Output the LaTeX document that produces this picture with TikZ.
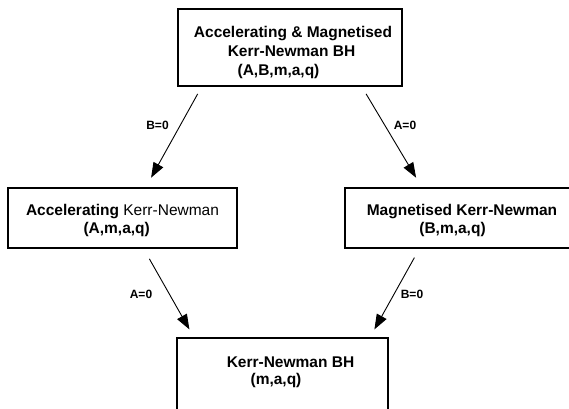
\documentclass[tikz,border=0pt]{standalone}
\usepackage{fontspec}
\setmainfont{Liberation Sans}
\usetikzlibrary{calc,arrows.meta}
\tikzset{
  box/.style={draw=black, line width=1.2pt, rectangle, inner sep=0pt, fill=white},
  boxtext/.style={font=\bfseries\fontsize{15.5pt}{18pt}\selectfont, anchor=base, inner sep=0pt},
  lbl/.style={font=\bfseries\fontsize{12pt}{14pt}\selectfont, anchor=base, inner sep=0pt},
  conn/.style={line width=0.9pt, -{Triangle[length=15pt,width=11pt]}}
}
\begin{document}
\begin{tikzpicture}[x=1pt,y=-1pt]
\useasboundingbox (0,0) rectangle (569,408);
\clip (0,0) rectangle (569,408);
% boxes
\node[box, minimum width=224pt, minimum height=77pt] (top) at (290,47.5) {};
\node[box, minimum width=229pt, minimum height=60pt] (left) at (122.5,218) {};
\node[box, minimum width=230pt, minimum height=60pt] (right) at (460,218) {};
\node[box, minimum width=211pt, minimum height=80pt] (bottom) at (282.5,378) {};
% texts
\node[boxtext] (t1) at (293,37.3) {Accelerating \& Magnetised};
\node[boxtext] (t2) at (291.5,56.5) {Kerr-Newman BH};
\node[boxtext] (t3) at (278.5,75) {(A,B,m,a,q)};
\node[boxtext] (l1) at (122.5,215.7) {Accelerating \mdseries Kerr-Newman};
\node[boxtext] (l2) at (116.7,233.5) {(A,m,a,q)};
\node[boxtext] (r1) at (462,215.7) {Magnetised Kerr-Newman};
\node[boxtext] (r2) at (452.5,233.5) {(B,m,a,q)};
\node[boxtext] (b1) at (290.5,367.3) {Kerr-Newman BH};
\node[boxtext] (b2) at (276,384) {(m,a,q)};
% connectors
\draw[conn] ($(top.south west)+(20.3,7.3)$) -- ($(left.north west)+(143.7,-9.7)$);
\draw[conn] ($(top.south west)+(188.7,7.3)$) -- ($(right.north west)+(71.7,-9.7)$);
\draw[conn] ($(left.south west)+(142,10.3)$) -- ($(bottom.north west)+(13,-8)$);
\draw[conn] ($(right.south west)+(70,9)$) -- ($(bottom.north west)+(198,-8)$);
% labels
\node[lbl] (eb1) at (157.5,129.3) {B=0};
\node[lbl] (ea1) at (405,129.3) {A=0};
\node[lbl] (ea2) at (141,298.3) {A=0};
\node[lbl] (eb2) at (412,298.3) {B=0};
\end{tikzpicture}
\end{document}
